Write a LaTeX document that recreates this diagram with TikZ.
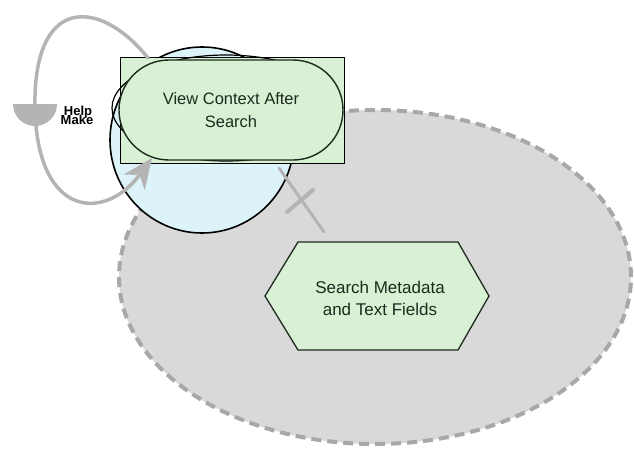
\documentclass[tikz,border=0pt]{standalone}
\usepackage{fontspec}
\setmainfont{Liberation Sans}
\usetikzlibrary{shapes.geometric,shapes.misc,arrows.meta}

\definecolor{leaf}{HTML}{D8F0D4}
\definecolor{sky}{HTML}{DCF3F9}
\definecolor{scopefill}{HTML}{D9D9D9}
\definecolor{scopeedge}{HTML}{A8A8A8}
\definecolor{wire}{HTML}{B4B4B4}
\definecolor{ink}{HTML}{1E2A1E}

\tikzset{
  scopearea/.style={ellipse, draw=scopeedge, fill=scopefill, line width=4pt,
    dash pattern=on 10pt off 6pt, inner sep=0pt},
  bubble/.style={ellipse, draw=black, fill=sky, line width=1.6pt, inner sep=0pt},
  taskbox/.style={rectangle, draw=black, fill=leaf, line width=0.8pt, inner sep=0pt},
  pill/.style={rounded rectangle, draw=ink, fill=leaf, line width=1.4pt, inner sep=0pt,
    align=center, text=ink, font=\fontsize{16.5}{23}\selectfont},
  ring/.style={ellipse, draw=black, line width=1.2pt, inner sep=0pt},
  hexlabel/.style={align=center, text=ink, font=\fontsize{17}{22}\selectfont},
  hexedge/.style={draw=ink, fill=leaf, line width=1.3pt, line join=miter},
  flow/.style={draw=wire, line width=3.5pt, line cap=round},
  tag/.style={font=\bfseries\fontsize{13}{13}\selectfont, inner sep=0pt}
}

\begin{document}
\begin{tikzpicture}[x=1pt,y=-1pt]
\useasboundingbox (0,0) rectangle (634,450);
\fill[white] (0,0) rectangle (634,450);

% dashed scope region
\node[scopearea, minimum width=512pt, minimum height=334pt] (scope) at (375,277) {};

% context bubble and its overlapping outlines
\node[bubble, minimum width=184pt, minimum height=186pt] (ctx) at (202,140) {};
\node[taskbox, minimum width=224pt, minimum height=106pt] (frame) at (232,110) {};
\node[ring, minimum width=228pt, minimum height=106pt] (halo) at (226,108) {};
\node[pill, minimum width=224pt, minimum height=100pt] (view) at (231,110)
  {View Context After\\Search};

% hexagonal task
\filldraw[hexedge] (265,296) -- (298,242) -- (458,242) -- (489,296)
  -- (458,350) -- (298,350) -- cycle;
\node[hexlabel] (search) at (380,298) {Search Metadata\\and Text Fields};

% crossed link from the bubble toward the search task
\coordinate (linkA) at (279,168);
\coordinate (linkB) at (324,232);
\draw[flow, line width=3pt] (linkA) -- (linkB);
\coordinate (crossA) at (287,212);
\coordinate (crossB) at (313,190);
\draw[flow, line width=4pt] (crossA) -- (crossB);

% self loop on the context task
\coordinate (loopStart) at (148,58);
\coordinate (loopMid) at (35,110);
\coordinate (loopEnd) at (152,158);
\draw[flow, -{Stealth[length=30pt, width=26pt, inset=9pt]}]
  (loopStart) .. controls (100,-2) and (32,-6) .. (loopMid)
  .. controls (38,218) and (105,222) .. (loopEnd);

% half-disk marker on the loop
\fill[wire] (13,104) arc[start angle=180, end angle=0, x radius=22, y radius=22] -- cycle;
\node[tag] (help) at (78,112) {Help};
\node[tag] (make) at (77,120) {Make};
\end{tikzpicture}
\end{document}
